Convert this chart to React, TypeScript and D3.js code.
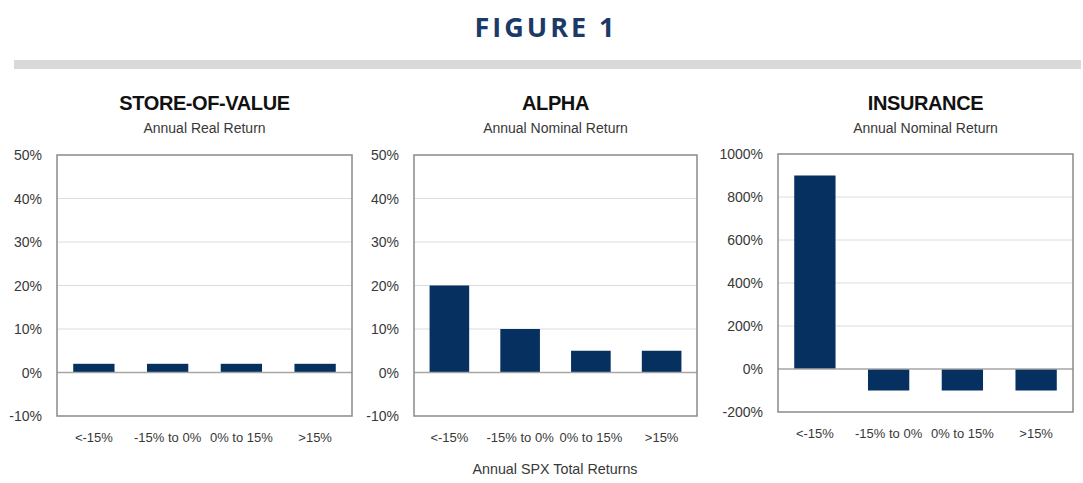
import React from 'react';
import * as d3 from 'd3';

// chart values
const categories = ["<-15%", "-15% to 0%", "0% to 15%", ">15%"];
const storeValues = [2, 2, 2, 2];
const alphaValues = [20, 10, 5, 5];
const insuranceValues = [900, -100, -100, -100];
const smallTicks = [-10, 0, 10, 20, 30, 40, 50];
const bigTicks = [-200, 0, 200, 400, 600, 800, 1000];

const titles = ["STORE-OF-VALUE", "ALPHA", "INSURANCE"];
const subtitles = ["Annual Real Return", "Annual Nominal Return", "Annual Nominal Return"];

const NAVY = "#06305f";
const FONT = "'Liberation Sans', Arial, sans-serif";

type PanelProps = {
  title: string;
  subtitle: string;
  values: number[];
  ticks: number[];
  left: number;
  right: number;
  top: number;
  bottom: number;
};

const Panel = ({ title, subtitle, values, ticks, left, right, top, bottom }: PanelProps) => {
  const y = d3.scaleLinear()
    .domain([ticks[0], ticks[ticks.length - 1]])
    .range([bottom, top]);
  const x = d3.scaleBand()
    .domain(categories)
    .range([left, right])
    .paddingInner(0.44)
    .paddingOuter(0.22);
  const cx = (left + right) / 2;

  return (
    <g>
      <text x={cx} y={110} textAnchor="middle" fontFamily={FONT} fontWeight="bold"
        fontSize={20} fill="#111" letterSpacing={-0.4}>{title}</text>
      <text x={cx} y={133} textAnchor="middle" fontFamily={FONT} fontSize={14}
        fill="#383838">{subtitle}</text>

      {ticks.map(t => (
        <g key={t}>
          {t !== 0 && t !== ticks[0] && t !== ticks[ticks.length - 1] && (
            <line x1={left} x2={right} y1={y(t)} y2={y(t)} stroke="#dcdcdc" strokeWidth={1} />
          )}
          <text x={left - 15} y={y(t) + 5} textAnchor="end" fontFamily={FONT}
            fontSize={14} fill="#383838">{t}%</text>
        </g>
      ))}

      {values.map((v, i) => (
        <rect key={categories[i]}
          x={x(categories[i])}
          width={x.bandwidth()}
          y={Math.min(y(v), y(0))}
          height={Math.abs(y(v) - y(0))}
          fill={NAVY} />
      ))}

      <line x1={left} x2={right} y1={y(0)} y2={y(0)} stroke="#a6a6a6" strokeWidth={1.5} />
      <rect x={left} y={top} width={right - left} height={bottom - top}
        fill="none" stroke="#8a8a8a" strokeWidth={1.5} />

      {categories.map(c => (
        <text key={c} x={(x(c) ?? 0) + x.bandwidth() / 2} y={bottom + 26}
          textAnchor="middle" fontFamily={FONT} fontSize={13} fill="#383838">{c}</text>
      ))}
    </g>
  );
};

export default function App() {
  return (
    <div style={{ position: 'absolute', left: 0, top: 0 }}>
      <svg width={1083} height={483} style={{ display: 'block', background: '#fff' }}>
        <text x={546} y={37} textAnchor="middle" fontFamily="'Open Sans', sans-serif"
          fontWeight="bold" fontSize={27} letterSpacing={3} fill="#1b3a68">FIGURE 1</text>
        <rect x={14} y={60} width={1067} height={9} fill="#d9d9d9" />

        <Panel title={titles[0]} subtitle={subtitles[0]} values={storeValues} ticks={smallTicks}
          left={57} right={352} top={155} bottom={416} />
        <Panel title={titles[1]} subtitle={subtitles[1]} values={alphaValues} ticks={smallTicks}
          left={414} right={697} top={155} bottom={416} />
        <Panel title={titles[2]} subtitle={subtitles[2]} values={insuranceValues} ticks={bigTicks}
          left={778} right={1073} top={154} bottom={412} />

        <text x={555} y={474} textAnchor="middle" fontFamily={FONT} fontSize={14.3}
          fill="#383838">Annual SPX Total Returns</text>
      </svg>
    </div>
  );
}
